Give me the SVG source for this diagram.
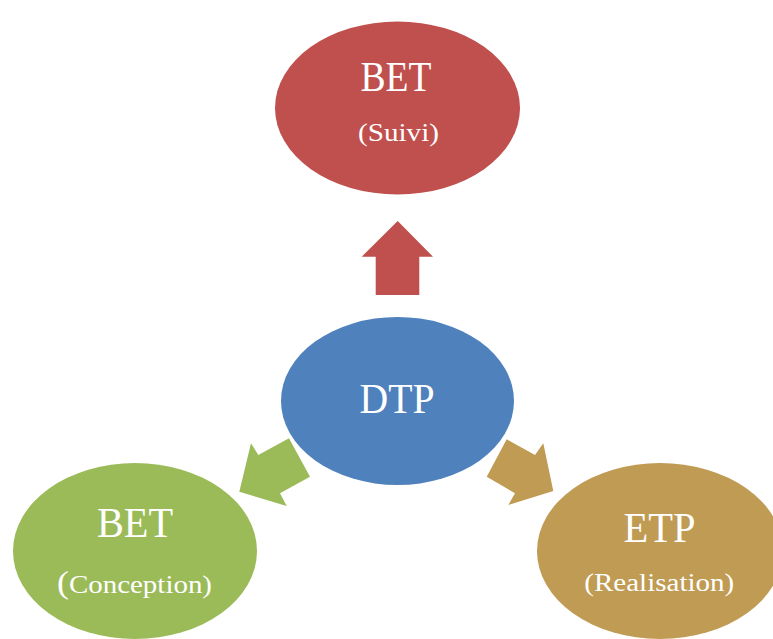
<svg xmlns="http://www.w3.org/2000/svg" width="773" height="639" viewBox="0 0 773 639">
<style>
text{font-family:"Liberation Serif","Times New Roman",serif;fill:#fff;text-anchor:middle}
.big{font-size:42px}
.sm{font-size:25px}
</style>
<rect width="773" height="639" fill="#fff"/>
<g id="connectors">
<polygon fill="#C0504D" points="397.7,221 433,256.7 419.3,256.7 419.3,295 375.7,295 375.7,256.7 361.7,256.7"/>
<polygon fill="#9BBB59" points="239.3,491.7 251,443.3 258.3,455 289,438.3 310,476.7 280,493.3 286.7,506"/>
<polygon fill="#C09B54" points="553.3,491 543.3,443.3 535,455 506.7,439.3 486.7,476.7 515,493.3 508.3,505"/>
</g>
<g id="bet-suivi">
<ellipse cx="397.5" cy="108" rx="122.5" ry="86.5" fill="#C0504D"/>
<text class="big" x="396" y="91" textLength="71" lengthAdjust="spacingAndGlyphs">BET</text>
<text class="sm" x="398.5" y="141" textLength="81" lengthAdjust="spacingAndGlyphs">(Suivi)</text>
</g>
<g id="dtp">
<ellipse cx="397.5" cy="401" rx="116.5" ry="84" fill="#4F81BD"/>
<text class="big" x="397" y="413" textLength="75" lengthAdjust="spacingAndGlyphs">DTP</text>
</g>
<g id="bet-conception">
<ellipse cx="135" cy="551" rx="122" ry="88" fill="#9BBB59"/>
<text class="big" x="135" y="537" textLength="76" lengthAdjust="spacingAndGlyphs">BET</text>
<text class="sm" x="134.5" y="593" textLength="155" lengthAdjust="spacingAndGlyphs"><tspan font-size="31">(</tspan>Conception)</text>
</g>
<g id="etp">
<ellipse cx="660" cy="551" rx="123" ry="88" fill="#C09B54"/>
<text class="big" x="659.5" y="541.7" textLength="72" lengthAdjust="spacingAndGlyphs">ETP</text>
<text class="sm" x="659.3" y="591" textLength="150" lengthAdjust="spacingAndGlyphs">(Realisation)</text>
</g>
</svg>
